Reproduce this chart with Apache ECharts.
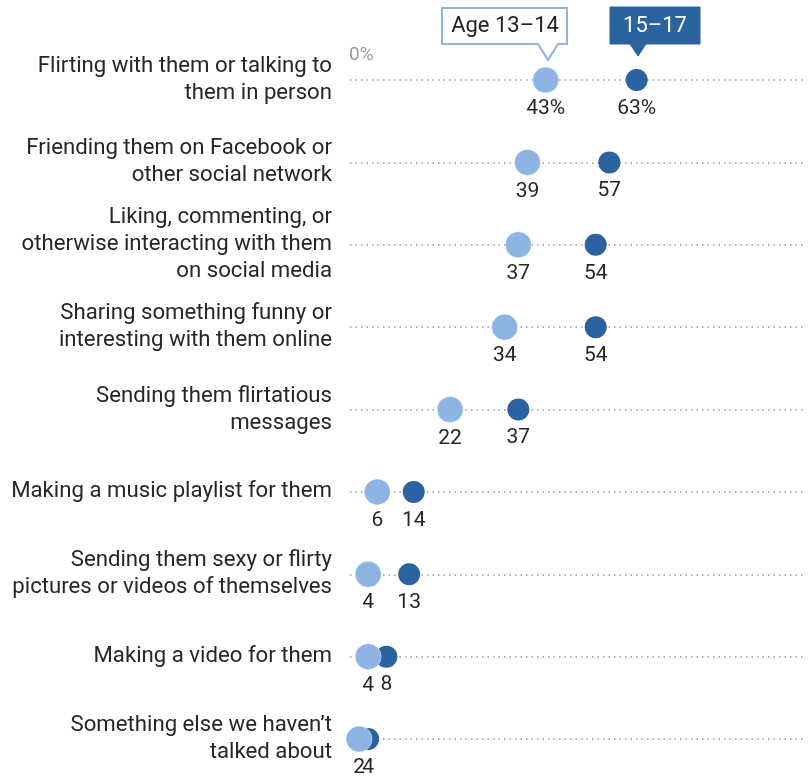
<!DOCTYPE html>
<html><head><meta charset="utf-8">
<script src="https://cdn.jsdelivr.net/npm/echarts@6/dist/echarts.min.js"></script>
<style>html,body{margin:0;padding:0;background:#fff}#c{width:808px;height:776px}</style>
</head><body><div id="c"></div>
<script>
const categories = [
  "Flirting with them or talking to\nthem in person",
  "Friending them on Facebook or\nother social network",
  "Liking, commenting, or\notherwise interacting with them\non social media",
  "Sharing something funny or\ninteresting with them online",
  "Sending them flirtatious\nmessages",
  "Making a music playlist for them",
  "Sending them sexy or flirty\npictures or videos of themselves",
  "Making a video for them",
  "Something else we haven’t\ntalked about"
];
const age1314 = [43, 39, 37, 34, 22, 6, 4, 4, 2];
const age1517 = [63, 57, 54, 54, 37, 14, 13, 8, 4];
const seriesNames = ["Age 13–14", "15–17"];
const zeroLabel = "0%";

const LIGHT = '#8db4e2', DARK = '#2b62a0';
const FONT = 'Roboto';
const chart = echarts.init(document.getElementById('c'), null, {renderer: 'canvas'});

function lab() {
  return function (p) { return p.dataIndex === 0 ? p.value[0] + '%' : String(p.value[0]); };
}

chart.setOption({
  animation: false,
  textStyle: {fontFamily: FONT},
  grid: {left: 350, right: 3, top: 80, bottom: 37, containLabel: false},
  xAxis: {
    type: 'value', min: 0, max: 100, show: false
  },
  yAxis: {
    type: 'category', data: categories, inverse: true, boundaryGap: false,
    axisLine: {show: false}, axisTick: {show: false},
    axisLabel: {color: '#262626', fontSize: 22.2, lineHeight: 27, margin: 18, align: 'right', fontFamily: FONT},
    splitLine: {show: true, lineStyle: {type: [1.5, 4], color: '#999', width: 1.5}}
  },
  series: [
    {
      name: seriesNames[1], type: 'scatter', symbolSize: 22, z: 2,
      itemStyle: {color: DARK, opacity: 1},
      data: age1517.map((v, i) => [v, categories[i]]),
      label: {show: true, position: 'bottom', distance: 7, color: '#262626', fontSize: 21, fontFamily: FONT, formatter: lab()}
    },
    {
      name: seriesNames[0], type: 'scatter', symbolSize: 26, z: 3,
      itemStyle: {color: LIGHT, opacity: 1, borderColor: 'rgba(255,255,255,0.5)', borderWidth: 0.8},
      data: age1314.map((v, i) => [v, categories[i]]),
      label: {show: true, position: 'bottom', distance: 5, color: '#262626', fontSize: 21, fontFamily: FONT, formatter: lab()}
    }
  ],
  graphic: [
    {type: 'text', left: 349, top: 46, style: {text: zeroLabel, fill: '#999', font: '19px ' + FONT}},
    {type: 'polygon', shape: {points: [[442,8],[567,8],[567,44],[558,44],[548,60],[538,44],[442,44]]},
     style: {fill: '#fff', stroke: LIGHT, lineWidth: 2}},
    {type: 'text', x: 505, y: 26, style: {text: seriesNames[0], fill: '#222', font: '22px ' + FONT, align: 'center', verticalAlign: 'middle'}},
    {type: 'polygon', shape: {points: [[610,7],[700,7],[700,44],[646,44],[638,56],[630,44],[610,44]]},
     style: {fill: DARK, stroke: DARK, lineWidth: 1}},
    {type: 'text', x: 655, y: 26, style: {text: seriesNames[1], fill: '#fff', font: '22px ' + FONT, align: 'center', verticalAlign: 'middle'}}
  ]
});
</script></body></html>
